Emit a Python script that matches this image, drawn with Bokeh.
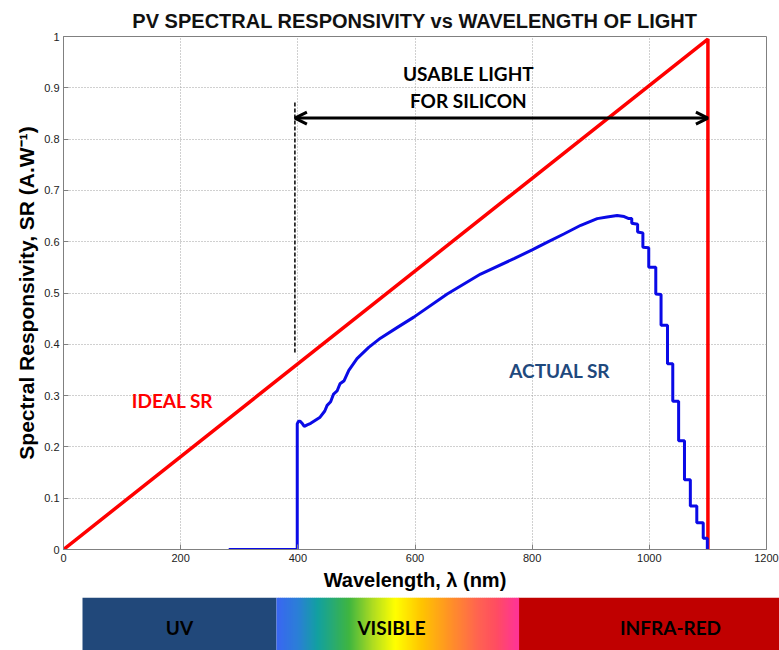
import numpy as np
from bokeh.plotting import figure
from bokeh.layouts import column
from bokeh.models import Range1d, FixedTicker, Label, Arrow, OpenHead, Title
from bokeh.embed import file_html
from bokeh.resources import INLINE

# ---------------- data ----------------
ideal_wl = [0, 1100, 1100]
ideal_sr = [0, 0.995, 0]

actual_wl = [282, 399, 399, 401, 404, 408, 411, 416, 422, 430, 438, 446, 450, 456,
             461, 467, 472, 479, 487, 501, 521, 541, 570, 598, 655, 712, 769, 800,
             826, 854, 883, 911, 928, 945, 957, 965, 970, 970, 980, 980, 989, 989,
             999, 999, 1011, 1011, 1020, 1020, 1031, 1031, 1040, 1040, 1050, 1050,
             1060, 1060, 1070, 1070, 1081, 1081, 1092, 1092, 1099, 1099]
actual_sr = [0, 0, 0.245, 0.250, 0.250, 0.245, 0.240, 0.243, 0.246, 0.252, 0.258,
             0.270, 0.281, 0.288, 0.303, 0.309, 0.323, 0.329, 0.349, 0.372, 0.394,
             0.412, 0.433, 0.453, 0.498, 0.537, 0.567, 0.584, 0.599, 0.615, 0.632,
             0.645, 0.648, 0.651, 0.649, 0.645, 0.645, 0.636, 0.634, 0.619, 0.617,
             0.589, 0.588, 0.550, 0.550, 0.498, 0.497, 0.437, 0.437, 0.362, 0.362,
             0.289, 0.289, 0.212, 0.212, 0.136, 0.136, 0.085, 0.085, 0.052, 0.052,
             0.022, 0.022, 0]

x_ticks = [0, 200, 400, 600, 800, 1000, 1200]
y_ticks = [0, 0.1, 0.2, 0.3, 0.4, 0.5, 0.6, 0.7, 0.8, 0.9, 1]

usable_start = 395
usable_end = 1100

band_labels = ["UV", "VISIBLE", "INFRA-RED"]
band_left = [82, 276, 518]
band_right = [276, 518, 779]
band_label_x = [179, 391, 670]
band_colors = ["#21487A", None, "#C00000"]

# gradient stops (fraction across visible band, colour)
grad_stops = [(0.0, "#3A66F2"), (0.09, "#2A7FD6"), (0.17, "#12A0A0"), (0.30, "#3FB540"),
              (0.40, "#B0DD20"), (0.49, "#FFFF00"), (0.60, "#FFC400"), (0.71, "#FF9424"),
              (0.83, "#FF6450"), (0.91, "#FF4C62"), (1.0, "#FF3399")]

TICK_FONT = "Liberation Sans"

# ---------------- main figure ----------------
p = figure(width=779, height=597, output_backend="svg", toolbar_location=None,
           x_range=Range1d(0, 1200), y_range=Range1d(0, 1),
           min_border_left=63, min_border_right=13, min_border_top=36,
           min_border_bottom=48)
p.frame_align = False

p.title = Title(text="PV SPECTRAL RESPONSIVITY vs WAVELENGTH OF LIGHT",
                align="center", text_font=TICK_FONT, text_font_size="20px",
                text_font_style="bold", text_color="#111111")

p.line(ideal_wl, ideal_sr, line_color="#FF0000", line_width=3.5)
p.line(actual_wl, actual_sr, line_color="#0A0AE6", line_width=3)

# dashed start line & arrow
p.segment(x0=[usable_start], y0=[0.384], x1=[usable_start], y1=[0.875],
          line_color="black", line_width=1.5, line_dash="4 2")
p.add_layout(Arrow(x_start=usable_start, y_start=0.841, x_end=usable_end, y_end=0.841,
                   line_width=3, line_color="black",
                   start=OpenHead(size=12, line_width=3, line_color="black"),
                   end=OpenHead(size=12, line_width=3, line_color="black")))

def add_text(txt, x, y, color):
    p.add_layout(Label(x=x, y=y, text=txt, text_font="Lato", text_font_style="bold",
                       text_font_size="19px", text_color=color,
                       text_align="center", text_baseline="middle"))

add_text("USABLE LIGHT", 691, 0.927, "black")
add_text("FOR SILICON", 691, 0.875, "black")
add_text("IDEAL SR", 186, 0.29, "#FF0000")
add_text("ACTUAL SR", 847, 0.349, "#1F497D")

p.xaxis.ticker = FixedTicker(ticks=x_ticks)
p.yaxis.ticker = FixedTicker(ticks=y_ticks)
p.yaxis.major_label_overrides = {0: "0", 1: "1"}
p.xaxis.axis_label = "Wavelength, \u03bb (nm)"
p.yaxis.axis_label = "Spectral Responsivity, SR (A.W\u207b\u00b9)"
for ax in (p.xaxis, p.yaxis):
    ax.axis_label_text_font = TICK_FONT
    ax.axis_label_text_font_style = "bold"
    ax.axis_label_text_color = "black"
    ax.major_label_text_font = TICK_FONT
    ax.major_label_text_font_size = "11px"
    ax.major_label_text_color = "#222222"
    ax.axis_line_color = "#808080"
    ax.major_tick_line_color = "#808080"
    ax.major_tick_in = 5
    ax.major_tick_out = 0
    ax.minor_tick_line_color = None
    ax.major_label_standoff = 4
    ax.axis_label_standoff = 4
p.xaxis.axis_label_text_font_size = "20px"
p.yaxis.axis_label_text_font_size = "21px"
p.yaxis.axis_label_standoff = 3

p.grid.grid_line_color = "#A0A0A0"
p.grid.grid_line_dash = "1 2"
p.grid.grid_line_width = 1
p.outline_line_color = "#808080"
p.outline_line_alpha = 1

# ---------------- spectrum bar ----------------
b = figure(width=779, height=53, output_backend="svg", toolbar_location=None,
           x_range=Range1d(0, 779), y_range=Range1d(0, 1),
           x_axis_location=None, y_axis_location=None,
           min_border=0, min_border_left=0, min_border_right=0,
           min_border_top=0, min_border_bottom=0)
b.frame_align = False
b.grid.visible = False
b.outline_line_color = None

solid_l = [band_left[i] for i in range(3) if band_colors[i]]
solid_r = [band_right[i] for i in range(3) if band_colors[i]]
solid_c = [c for c in band_colors if c]
b.quad(left=solid_l, right=solid_r, bottom=0, top=1, fill_color=solid_c, line_color=None)

def hex2rgb(h):
    return np.array([int(h[i:i + 2], 16) for i in (1, 3, 5)], dtype=float)

fr = np.array([s[0] for s in grad_stops])
cols = np.array([hex2rgb(s[1]) for s in grad_stops])
n = 121
edges = np.linspace(band_left[1], band_right[1], n + 1)
mids = (np.arange(n) + 0.5) / n
gcols = []
for m in mids:
    rgb = [np.interp(m, fr, cols[:, k]) for k in range(3)]
    gcols.append("#%02x%02x%02x" % tuple(int(round(v)) for v in rgb))
b.quad(left=edges[:-1], right=edges[1:] + 0.6, bottom=0, top=1, fill_color=gcols,
       line_color=None)

for lab, lx in zip(band_labels, band_label_x):
    b.add_layout(Label(x=lx, y=0.44, text=lab, text_font="Lato",
                       text_font_style="bold", text_font_size="19px", text_color="black",
                       text_align="center", text_baseline="middle"))

layout = column(p, b, spacing=0)
open("out.html", "w").write(file_html(layout, INLINE))
